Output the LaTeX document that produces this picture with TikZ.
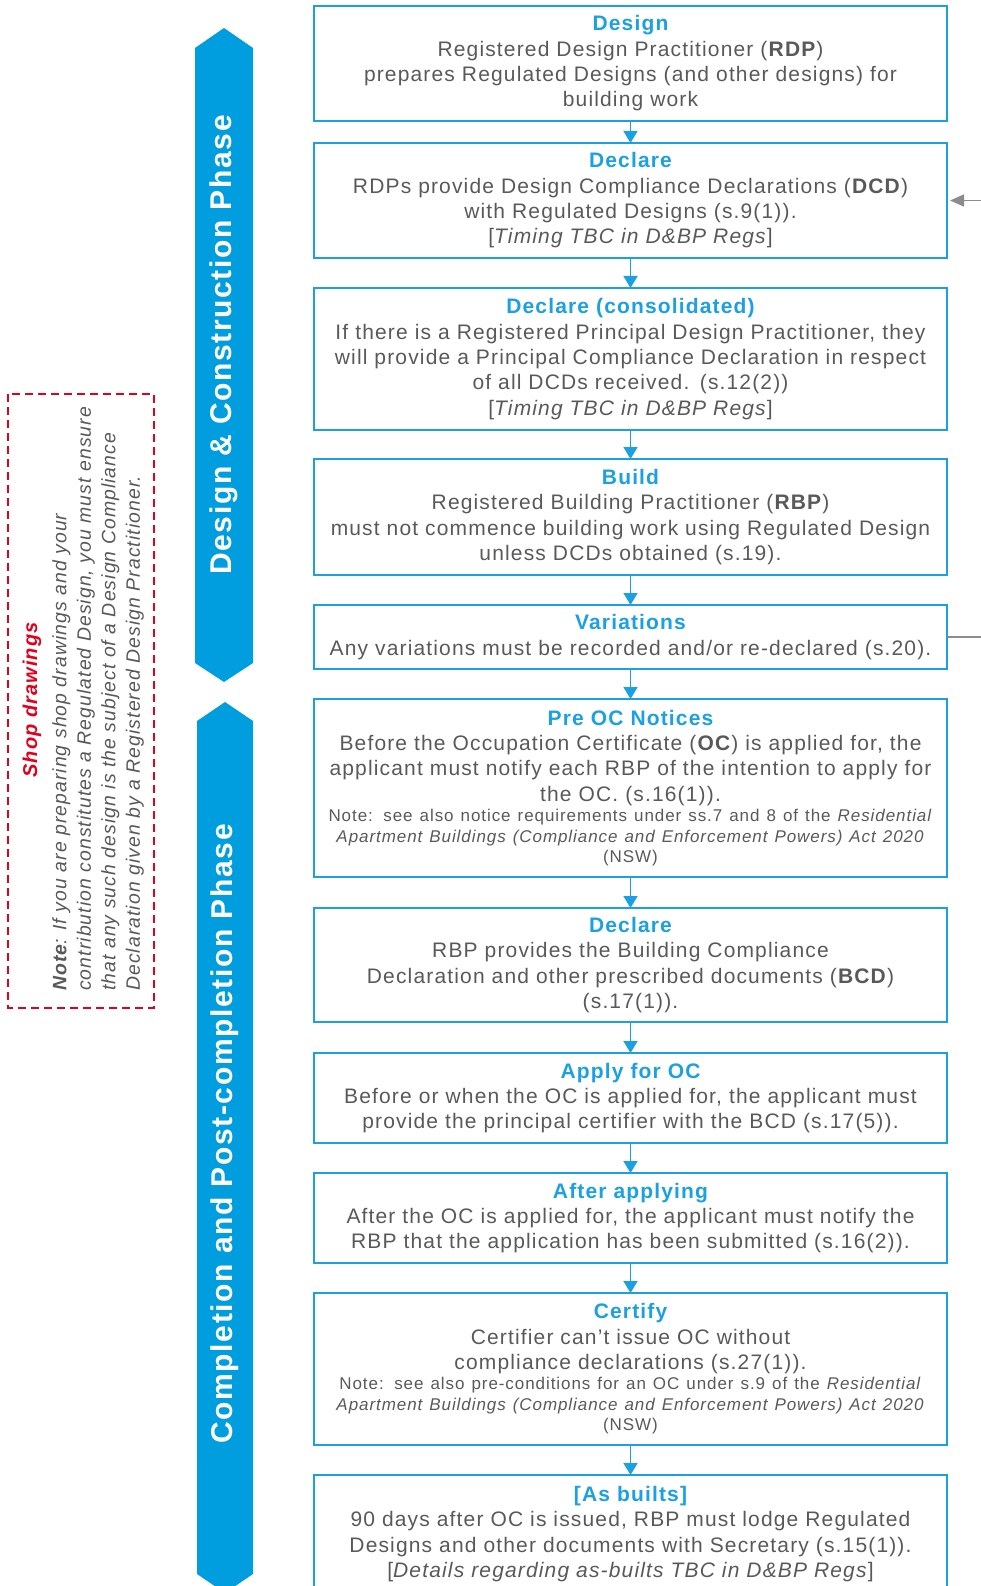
\documentclass[tikz,border=0pt]{standalone}
\usepackage{fontspec}
\setmainfont{Liberation Sans}[LetterSpace=5.5]
\usetikzlibrary{positioning,arrows.meta}

\definecolor{phaseblue}{HTML}{009EDF}
\definecolor{boxblue}{HTML}{1BA1E2}
\definecolor{txtgray}{HTML}{595959}
\definecolor{notered}{HTML}{E2001A}
\definecolor{linkgray}{HTML}{8C8C8C}

\newcommand{\hd}[1]{{\color{boxblue}\bfseries #1}\\}
\newcommand{\smallnote}{\fontsize{17}{20.5}\selectfont}

\tikzset{
  stagebox/.style={draw=boxblue, line width=2pt, outer sep=0pt, minimum width=633pt, text width=625pt,
    align=center, inner sep=0pt, text=txtgray, font=\fontsize{21}{25.3}\selectfont},
  flow/.style={draw=boxblue, line width=1.6pt, -{Triangle[width=14pt,length=12pt]}},
  link/.style={draw=linkgray, line width=1.5pt},
  phase/.style={fill=phaseblue},
  phasetext/.style={rotate=90, text=white, font=\fontsize{30}{33}\selectfont\bfseries}
}

\begin{document}
\begin{tikzpicture}[x=1pt,y=1pt]
\useasboundingbox (0,0) rectangle (981,-1586);
\clip (0,0) rectangle (981,-1586);

% phase arrows
\fill[phase] (195,-48) -- (224,-28) -- (253,-48) -- (253,-663) -- (224,-682) -- (195,-663) -- cycle;
\fill[phase] (197,-721) -- (225,-702) -- (253,-721) -- (253,-1574) -- (225,-1593) -- (197,-1574) -- cycle;
\node[phasetext] (dcphase) at (224,-345) {Design \& Construction Phase};
\node[phasetext] (pcphase) at (225,-1134) {Completion and Post-completion Phase};

% shop drawings note
\draw[notered, line width=2pt, dash pattern=on 8pt off 5pt] (8,-394) rectangle (154,-1008);
\node[rotate=90, text=notered, font=\fontsize{20}{24}\selectfont\bfseries\itshape] (shoptitle) at (32,-700) {Shop drawings};
\node[rotate=90, anchor=north west, align=left, inner sep=0pt, text=txtgray,
  font=\fontsize{19.4}{24.5}\selectfont\itshape] (shopnote) at (52,-991)
  {\textbf{Note}: If you are preparing shop drawings and your\\
   contribution constitutes a Regulated Design, you must ensure\\
   that any such design is the subject of a Design Compliance\\
   Declaration given by a Registered Design Practitioner.};

% stages
\node[stagebox, minimum height=115pt] (design) at (630.5,-63.5)
  {\hd{Design}Registered Design Practitioner (\textbf{RDP})\\
   prepares Regulated Designs (and other designs) for\\ building work};
\node[stagebox, minimum height=115pt, below=22pt of design] (declare)
  {\hd{Declare}RDPs provide Design Compliance Declarations (\textbf{DCD})\\
   with Regulated Designs (s.9(1)).\\{}[\textit{Timing TBC in D\&BP Regs}]};
\node[stagebox, minimum height=142pt, below=30pt of declare] (consol)
  {\hd{Declare (consolidated)}If there is a Registered Principal Design Practitioner, they\\
   will provide a Principal Compliance Declaration in respect\\
   of all DCDs received. (s.12(2))\\{}[\textit{Timing TBC in D\&BP Regs}]};
\node[stagebox, minimum height=116pt, below=29pt of consol] (build)
  {\hd{Build}Registered Building Practitioner (\textbf{RBP})\\
   must not commence building work using Regulated Design\\
   unless DCDs obtained (s.19).};
\node[stagebox, minimum height=64pt, below=30pt of build] (variations)
  {\hd{Variations}Any variations must be recorded and/or re-declared (s.20).};
\node[stagebox, minimum height=178pt, below=30pt of variations] (preoc)
  {\hd{Pre OC Notices}Before the Occupation Certificate (\textbf{OC}) is applied for, the\\
   applicant must notify each RBP of the intention to apply for\\
   the OC. (s.16(1)).\par
   {\smallnote Note: see also notice requirements under ss.7 and 8 of the \textit{Residential}\\
   \textit{Apartment Buildings (Compliance and Enforcement Powers) Act 2020}\\ (NSW)\par}};
\node[stagebox, minimum height=114pt, below=31pt of preoc] (bcd)
  {\hd{Declare}RBP provides the Building Compliance\\
   Declaration and other prescribed documents (\textbf{BCD})\\ (s.17(1)).};
\node[stagebox, minimum height=90pt, below=31pt of bcd] (apply)
  {\hd{Apply for OC}Before or when the OC is applied for, the applicant must\\
   provide the principal certifier with the BCD (s.17(5)).};
\node[stagebox, minimum height=90pt, below=30pt of apply] (after)
  {\hd{After applying}After the OC is applied for, the applicant must notify the\\
   RBP that the application has been submitted (s.16(2)).};
\node[stagebox, minimum height=152pt, below=30pt of after] (certify)
  {\hd{Certify}Certifier can’t issue OC without\\
   compliance declarations (s.27(1)).\par
   {\smallnote Note: see also pre-conditions for an OC under s.9 of the \textit{Residential}\\
   \textit{Apartment Buildings (Compliance and Enforcement Powers) Act 2020}\\ (NSW)\par}};
\node[stagebox, minimum height=118pt, below=30pt of certify] (asbuilt)
  {\hd{{}[As builts]}90 days after OC is issued, RBP must lodge Regulated\\
   Designs and other documents with Secretary (s.15(1)).\\{}[\textit{Details regarding as-builts TBC in D\&BP Regs}]};

% connectors
\foreach \a/\b in {design/declare, declare/consol, consol/build, build/variations,
  variations/preoc, preoc/bcd, bcd/apply, apply/after, after/certify, certify/asbuilt}
  \draw[flow] (\a.south) -- (\b.north);

% loop back from variations (cut at page edge)
\coordinate (rim) at (981,0);
\coordinate (loopout) at (variations.east -| rim);
\coordinate (loopin) at (declare.east -| rim);
\draw[link] (variations.east) -- (loopout);
\draw[link, -{Triangle[width=12pt,length=14pt]}] (loopin) -- ([xshift=3pt]declare.east);
\end{tikzpicture}
\end{document}
